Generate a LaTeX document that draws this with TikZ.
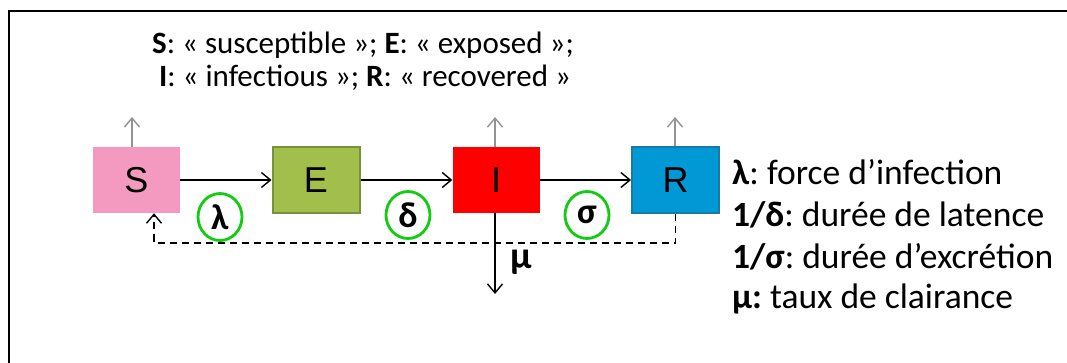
\documentclass[tikz,border=0pt]{standalone}
\usepackage{fontspec}
\setmainfont{Carlito}
\newfontfamily\boxfont{Liberation Sans}
\usetikzlibrary{arrows.meta,shapes.geometric}
\frenchspacing
\definecolor{spink}{HTML}{F49AC1}
\definecolor{egreen}{HTML}{A3BF4B}
\definecolor{eborder}{HTML}{76923C}
\definecolor{ired}{HTML}{FF0000}
\definecolor{rblue}{HTML}{0099D6}
\definecolor{rborder}{HTML}{1A79A6}
\definecolor{rategreen}{HTML}{11CC11}
\begin{document}
\begin{tikzpicture}[x=1pt,y=-1pt,
    comp/.style={minimum width=87pt,minimum height=66pt,inner sep=0pt,
      font=\boxfont\fontsize{36}{36}\selectfont},
    flow/.style={line width=1.4pt,-{Straight Barb[length=9pt,width=15pt]}},
    vent/.style={flow,draw=gray!85},
    feedback/.style={flow,dash pattern=on 7pt off 5pt},
    rate/.style={ellipse,draw=rategreen,line width=2.8pt,minimum width=44pt,
      minimum height=47pt,inner sep=0pt,font=\fontsize{36}{36}\selectfont\bfseries},
    legend/.style={anchor=west,inner sep=0pt,font=\fontsize{35.5}{35.5}\selectfont}]
  \useasboundingbox (0,0) rectangle (1067,363);
  \draw[line width=2.4pt] (9,380) |- (1090,11);
  % compartments
  \node[comp,fill=spink] (S) at (136.5,180) {S};
  \node[comp,fill=egreen,draw=eborder,line width=2pt] (E) at (316,180) {E};
  \node[comp,fill=ired] (I) at (496,180) {I};
  \node[comp,fill=rblue,draw=rborder,line width=2pt] (R) at (675.5,180) {R};
  \draw[flow] (S) -- (E);
  \draw[flow] (E) -- (I);
  \draw[flow] (I) -- (R);
  % outflows
  \coordinate (Sout) at (132,117);
  \coordinate (Iout) at (495,117);
  \coordinate (Rout) at (675,117);
  \draw[vent] (S.north -| Sout) -- (Sout);
  \draw[vent] (I.north -| Iout) -- (Iout);
  \draw[vent] (R.north -| Rout) -- (Rout);
  \coordinate (death) at (495,294);
  \draw[flow] (I.south -| death) -- (death);
  \node[font=\fontsize{38}{38}\selectfont\bfseries] (mu) at (521,262) {μ};
  % return to S
  \coordinate (dl) at (154,243);
  \draw[feedback] (R.south) |- (dl) -- (dl |- S.south);
  % rates
  \node[rate] (lam) at (220,217) {λ};
  \node[rate] (del) at (408,215) {δ};
  \node[rate] (sig) at (587,215) {σ};
  % captions
  \node[font=\fontsize{31}{31}\selectfont] (t1) at (363,45)
    {\textbf{S}: « susceptible »; \textbf{E}: « exposed »;};
  \node[font=\fontsize{31}{31}\selectfont] (t2) at (365,78)
    {\textbf{I}: « infectious »; \textbf{R}: « recovered »};
  \node[legend] (l1) at (732,172) {\textbf{λ}: force d’infection};
  \node[legend] (l2) at (732,215) {\textbf{1/δ}: durée de latence};
  \node[legend] (l3) at (732,257) {\textbf{1/σ}: durée d’excrétion};
  \node[legend] (l4) at (732,299) {\textbf{μ:} taux de clairance};
\end{tikzpicture}
\end{document}
